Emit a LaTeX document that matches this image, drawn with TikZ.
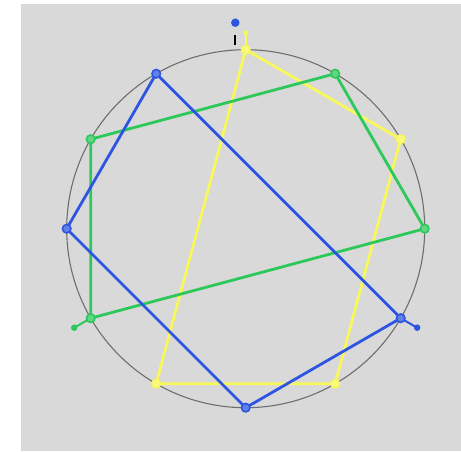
\documentclass[tikz,border=0pt]{standalone}
\usetikzlibrary{calc}
\definecolor{bgray}{RGB}{217,217,217}
\definecolor{cblue}{RGB}{45,85,225}
\definecolor{cgreen}{RGB}{45,200,90}
\definecolor{cyellow}{RGB}{248,248,90}
\definecolor{cring}{RGB}{110,110,110}
\begin{document}
\begin{tikzpicture}[x=1pt,y=1pt,
  edge/.style={line width=2.8pt,line join=round,line cap=round},
  vtx/.style={circle,draw=#1,fill=#1!75!white,line width=1.6pt,inner sep=0pt,minimum size=8.5pt},
  tipdot/.style={circle,fill=#1,inner sep=0pt,minimum size=6.5pt}]
\useasboundingbox (0,0) rectangle (461,451);
\fill[bgray] (21,0) rectangle (461,447);
\coordinate (C) at (245.7,222.3);
\node[circle,draw=cring,line width=1.1pt,minimum size=358pt,inner sep=0pt] (ring) at (C) {};
% vertices
\foreach \a/\n in {120/b1,330/b2,270/b3,180/b4, 60/g1,150/g2,210/g3,0/g4, 90/y1,30/y2,300/y3,240/y4}
  \coordinate (\n) at ($(C)+(\a:179)$);
\coordinate (be) at ($(C)+(330:198)$);
\coordinate (ge) at ($(C)+(210:198)$);
\coordinate (ye) at ($(C)+(90:196)$);
% yellow
\draw[edge,cyellow] (y1) -- (y2) -- (y3) -- (y4) -- cycle;
\draw[edge,cyellow,line width=2pt] (y1) -- (ye);
% green
\draw[edge,cgreen] (g1) -- (g2) -- (g3) -- (g4) -- cycle;
\draw[edge,cgreen,line width=2pt] (g3) -- (ge);
% blue
\draw[edge,cblue] (b1) -- (b2) -- (b3) -- (b4) -- cycle;
\draw[edge,cblue,line width=2pt] (b2) -- (be);
% markers
\foreach \n in {y1,y2,y3,y4} \node[vtx=cyellow] at (\n) {};
\foreach \n in {g1,g2,g3,g4} \node[vtx=cgreen] at (\n) {};
\foreach \n in {b1,b2,b3,b4} \node[vtx=cblue] at (\n) {};
\node[tipdot=cgreen] (gd) at (ge) {};
\node[tipdot=cblue] (bd) at (be) {};
\node[tipdot=cyellow,minimum size=5pt] (yd) at (ye) {};
\node[circle,fill=cblue,inner sep=0pt,minimum size=8.5pt] (topdot) at (235.3,428.3) {};
\coordinate (tk1) at (235.3,406);
\coordinate (tk2) at (235.3,416);
\draw[black,line width=2.2pt] (tk1) -- (tk2);
\end{tikzpicture}
\end{document}
